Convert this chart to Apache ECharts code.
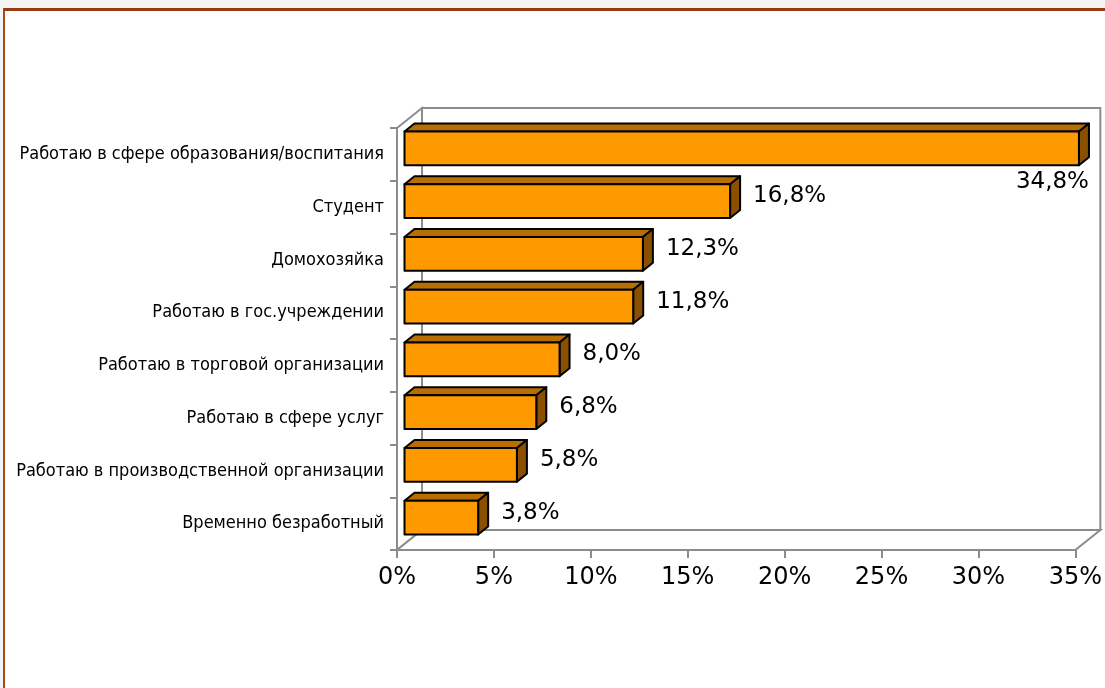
<!DOCTYPE html>
<html>
<head>
<meta charset="utf-8">
<script src="https://cdn.jsdelivr.net/npm/echarts@6/dist/echarts.min.js"></script>
<style>
  html, body { margin: 0; padding: 0; background: #f4f4f4; width: 1105px; height: 688px; overflow: hidden }
  .frame { position: absolute; left: 3px; top: 8px; width: 1110px; height: 690px; background: #fff;
           border-top: 3px solid #9a3a12; border-left: 2px solid #b0441a; box-sizing: border-box }
  #chart { position: absolute; left: 0; top: 0; width: 1105px; height: 688px }
</style>
</head>
<body>
<div class="frame"></div>
<div id="chart"></div>
<script>
// data
const categories = [
  'Работаю в сфере образования/воспитания',
  'Студент',
  'Домохозяйка',
  'Работаю в гос.учреждении',
  'Работаю в торговой организации',
  'Работаю в сфере услуг',
  'Работаю в производственной организации',
  'Временно безработный'
]
const values = [34.8, 16.8, 12.3, 11.8, 8.0, 6.8, 5.8, 3.8]
const xTicks = [0, 5, 10, 15, 20, 25, 30, 35]

// 3d look
const DX = 25, DY = -20
const FONT = '"DejaVu Sans", Verdana, sans-serif'
const CAT_FONT = '"DejaVu Sans Condensed", "DejaVu Sans", sans-serif'
const WALL = '#8c8c8c'

function fmt(v) {
  return v.toFixed(1).replace('.', ',') + '%'
}

function renderWalls(params, api) {
  const cs = params.coordSys
  const x0 = cs.x, y0 = cs.y, x1 = cs.x + cs.width, y1 = cs.y + cs.height
  const line = { stroke: WALL, lineWidth: 2, fill: '#fff' }
  return {
    type: 'group',
    children: [
      { type: 'polygon', shape: { points: [[x0 + DX, y0 + DY], [x1 + DX, y0 + DY], [x1 + DX, y1 + DY], [x0 + DX, y1 + DY]] }, style: line },
      { type: 'polygon', shape: { points: [[x0, y0], [x0 + DX, y0 + DY], [x0 + DX, y1 + DY], [x0, y1]] }, style: line },
      { type: 'polygon', shape: { points: [[x0, y1], [x0 + DX, y1 + DY], [x1 + DX, y1 + DY], [x1, y1]] }, style: line }
    ]
  }
}

function renderBar(params, api) {
  const v = api.value(0)
  const cat = api.value(1)
  const p0 = api.coord([0, cat])
  const p1 = api.coord([v, cat])
  const h = api.size([0, 1])[1] * 0.64
  const fx = DX * 0.3, fy = DY * 0.3, bx = DX * 0.4, by = DY * 0.4
  const left = p0[0] + fx, right = p1[0] + fx
  const top = p0[1] + fy - h / 2, bottom = top + h
  const edge = { stroke: '#000', lineWidth: 2, lineJoin: 'round' }
  const cs = params.coordSys
  const inside = right + bx + 90 > cs.x + cs.width + DX
  const label = inside
    ? { type: 'text', x: right + bx, y: bottom + 5, style: { text: fmt(v), font: '23px ' + FONT, fill: '#000', align: 'right', verticalAlign: 'top' } }
    : { type: 'text', x: right + bx + 13, y: (top + bottom) / 2 - 5, style: { text: fmt(v), font: '23px ' + FONT, fill: '#000', align: 'left', verticalAlign: 'middle' } }
  return {
    type: 'group',
    children: [
      { type: 'polygon', shape: { points: [[left, top], [left + bx, top + by], [right + bx, top + by], [right, top]] }, style: Object.assign({ fill: '#b86e00' }, edge) },
      { type: 'polygon', shape: { points: [[right, top], [right + bx, top + by], [right + bx, bottom + by], [right, bottom]] }, style: Object.assign({ fill: '#8a5000' }, edge) },
      { type: 'rect', shape: { x: left, y: top, width: right - left, height: h }, style: Object.assign({ fill: '#ff9900' }, edge) },
      label
    ]
  }
}

const chart = echarts.init(document.getElementById('chart'))
chart.setOption({
  animation: false,
  grid: { left: 397, right: 29, top: 128, bottom: 138 },
  xAxis: {
    type: 'value', min: 0, max: xTicks[xTicks.length - 1], interval: 5,
    axisLine: { show: true, lineStyle: { color: WALL, width: 2 } },
    axisTick: { show: true, length: 8, lineStyle: { color: WALL, width: 2 } },
    splitLine: { show: false },
    axisLabel: { formatter: v => v + '%', fontSize: 24, fontFamily: FONT, color: '#000', margin: 16 }
  },
  yAxis: {
    type: 'category', data: categories, inverse: true,
    axisLine: { show: true, lineStyle: { color: WALL, width: 2 } },
    axisTick: { show: true, length: 7, lineStyle: { color: WALL, width: 2 } },
    axisLabel: { fontSize: 18, fontFamily: CAT_FONT, color: '#000', margin: 13 }
  },
  series: [
    { type: 'custom', renderItem: renderWalls, data: [[0, 0]], z: 1, silent: true },
    {
      type: 'custom', renderItem: renderBar, z: 3,
      encode: { x: 0, y: 1 },
      data: values.map((v, i) => [v, i])
    }
  ]
})
</script>
</body>
</html>
